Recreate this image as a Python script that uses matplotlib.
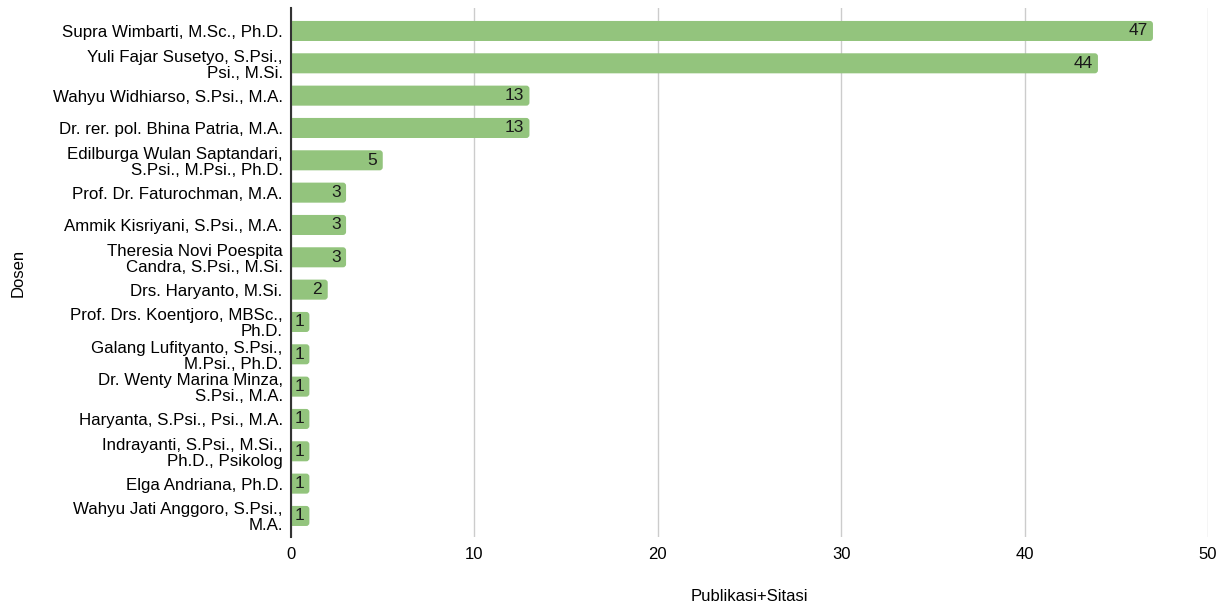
import matplotlib
matplotlib.use("Agg")
import matplotlib.pyplot as plt
from matplotlib.patches import FancyBboxPatch

plt.rcParams['font.family'] = ['Liberation Sans', 'DejaVu Sans']

# data
dosen = [
    "Supra Wimbarti, M.Sc., Ph.D.",
    "Yuli Fajar Susetyo, S.Psi.,\nPsi., M.Si.",
    "Wahyu Widhiarso, S.Psi., M.A.",
    "Dr. rer. pol. Bhina Patria, M.A.",
    "Edilburga Wulan Saptandari,\nS.Psi., M.Psi., Ph.D.",
    "Prof. Dr. Faturochman, M.A.",
    "Ammik Kisriyani, S.Psi., M.A.",
    "Theresia Novi Poespita\nCandra, S.Psi., M.Si.",
    "Drs. Haryanto, M.Si.",
    "Prof. Drs. Koentjoro, MBSc.,\nPh.D.",
    "Galang Lufityanto, S.Psi.,\nM.Psi., Ph.D.",
    "Dr. Wenty Marina Minza,\nS.Psi., M.A.",
    "Haryanta, S.Psi., Psi., M.A.",
    "Indrayanti, S.Psi., M.Si.,\nPh.D., Psikolog",
    "Elga Andriana, Ph.D.",
    "Wahyu Jati Anggoro, S.Psi.,\nM.A.",
]
nilai = [47, 44, 13, 13, 5, 3, 3, 3, 2, 1, 1, 1, 1, 1, 1, 1]
xticks = [0, 10, 20, 30, 40, 50]

BAR_COLOR = '#93c47d'

fig = plt.figure(figsize=(12.26, 6.03), dpi=100)
ax = fig.add_axes([0.2374, 0.1095, 0.7479, 0.8772])

ypos = list(range(len(dosen)))
bars = ax.barh(ypos, nilai, height=0.62, color=BAR_COLOR, zorder=2)

# swap plain bars for ones with rounded right end
rad = 0.17
for b in bars:
    x0, y0 = b.get_x(), b.get_y()
    w, h = b.get_width(), b.get_height()
    p = FancyBboxPatch((x0 - rad * 2, y0), w + rad * 2, h,
                       boxstyle=f"round,pad=0,rounding_size={rad}",
                       mutation_aspect=0.567, facecolor=BAR_COLOR,
                       edgecolor='none', zorder=2, clip_on=True)
    ax.add_patch(p)
    b.set_visible(False)

for y, v in zip(ypos, nilai):
    ax.text(v - 0.3, y, str(v), ha='right', va='center',
            fontsize=12.5, color='#1a1a1a', zorder=3)

ax.set_xlim(0, 50)
ax.set_ylim(15.65, -0.71)
ax.set_xticks(xticks)
ax.set_yticks(ypos)
ax.set_yticklabels(dosen, fontsize=12.2, linespacing=1.08)
ax.tick_params(axis='y', length=0, pad=6)
ax.tick_params(axis='x', length=0, pad=7, labelsize=12)

ax.grid(True, axis='x', color='#cccccc', linewidth=1, zorder=0)
for s in ['top', 'right', 'bottom']:
    ax.spines[s].set_visible(False)
ax.spines['left'].set_color('#333333')
ax.spines['left'].set_linewidth(1.5)
ax.spines['left'].set_zorder(4)

ax.set_xlabel('Publikasi+Sitasi', fontsize=12, labelpad=20)
ax.set_ylabel('Dosen', fontsize=12)
ax.yaxis.set_label_coords(-0.289, 0.5)

plt.savefig('out.png', dpi=100)
